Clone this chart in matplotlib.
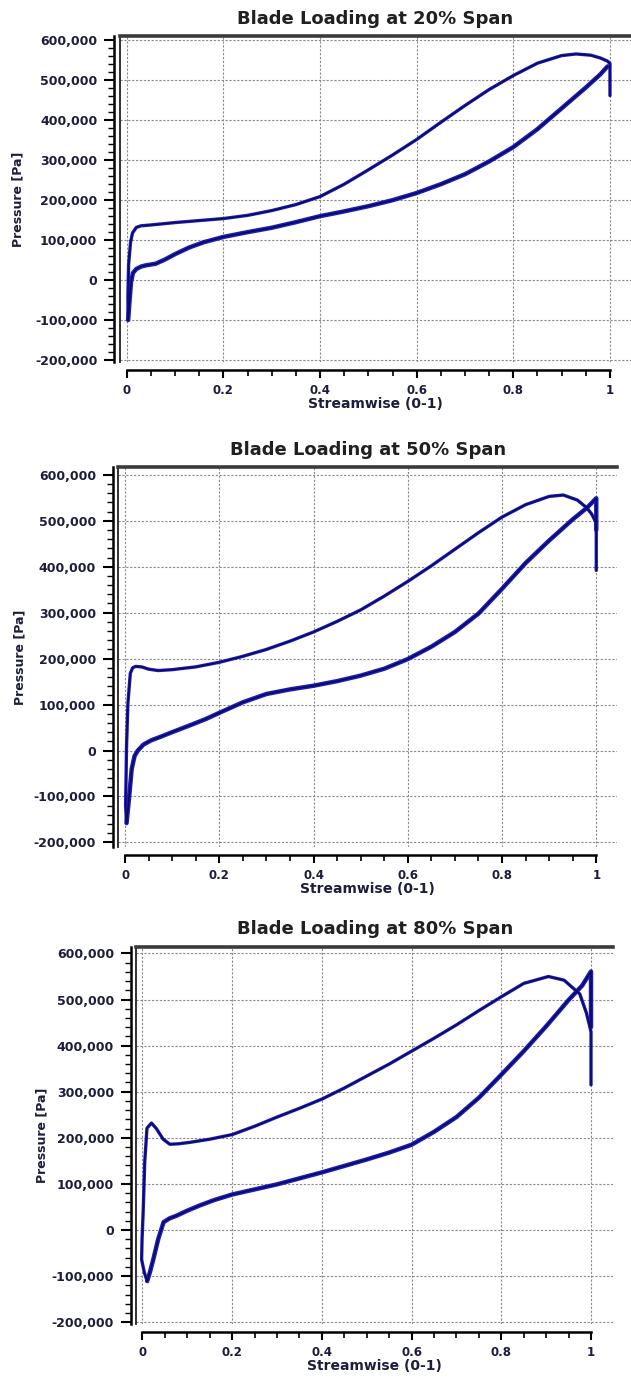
import numpy as np
import matplotlib.pyplot as plt
from matplotlib.ticker import MultipleLocator, FuncFormatter

plt.rcParams['font.family'] = ['DejaVu Sans']
plt.rcParams['font.weight'] = 'bold'

# blade loading data (pressure in Pa, streamwise 0-1)
# upper branch (pressure side) and lower branch (suction side)
x_ps_20 = [0.003, 0.0025, 0.004, 0.008, 0.012, 0.02, 0.03, 0.05, 0.1, 0.15, 0.2, 0.25, 0.3, 0.35,
           0.4, 0.45, 0.5, 0.55, 0.6, 0.65, 0.7, 0.75, 0.8, 0.85, 0.9, 0.93, 0.96, 0.98, 0.995, 1.0, 1.0]
p_ps_20 = [-100e3, -40e3, 40e3, 95e3, 118e3, 132e3, 136e3, 138e3, 144e3, 149e3, 154e3, 162e3, 174e3, 189e3,
           209e3, 240e3, 276e3, 313e3, 352e3, 395e3, 437e3, 477e3, 512e3, 543e3, 562e3, 566e3, 563e3, 556e3,
           548e3, 542e3, 462e3]
x_ss_20 = [0.003, 0.006, 0.009, 0.013, 0.02, 0.03, 0.04, 0.06, 0.08, 0.1, 0.13, 0.16, 0.2, 0.25, 0.3,
           0.35, 0.4, 0.45, 0.5, 0.55, 0.6, 0.65, 0.7, 0.75, 0.8, 0.85, 0.9, 0.95, 0.98, 0.995]
p_ss_20 = [-100e3, -50e3, -5e3, 18e3, 28e3, 34e3, 37e3, 41e3, 52e3, 65e3, 82e3, 95e3, 108e3, 120e3, 131e3,
           145e3, 160e3, 172e3, 185e3, 200e3, 218e3, 240e3, 265e3, 297e3, 333e3, 378e3, 430e3, 482e3,
           515e3, 535e3]

x_ps_50 = [0.003, 0.001, 0.002, 0.003, 0.006, 0.011, 0.016, 0.022, 0.035, 0.05, 0.07, 0.1, 0.15, 0.2,
           0.25, 0.3, 0.35, 0.4, 0.45, 0.5, 0.55, 0.6, 0.65, 0.7, 0.75, 0.8, 0.85, 0.9, 0.93, 0.96,
           0.98, 0.99, 1.0, 1.0]
p_ps_50 = [-158e3, -120e3, -60e3, 9e3, 104e3, 168e3, 180e3, 183e3, 182e3, 177e3, 174e3, 176e3, 182e3,
           192e3, 205e3, 220e3, 238e3, 258e3, 281e3, 306e3, 336e3, 368e3, 402e3, 438e3, 474e3, 508e3,
           535e3, 553e3, 556e3, 545e3, 528e3, 515e3, 495e3, 392e3]
x_ss_50 = [0.003, 0.008, 0.014, 0.02, 0.027, 0.039, 0.055, 0.078, 0.1, 0.138, 0.17, 0.2, 0.25, 0.3,
           0.35, 0.4, 0.45, 0.5, 0.55, 0.6, 0.65, 0.7, 0.75, 0.8, 0.85, 0.9, 0.95, 0.98, 1.0, 1.0]
p_ss_50 = [-158e3, -107e3, -40e3, -12e3, 0, 13e3, 22e3, 31e3, 40e3, 55e3, 68e3, 82e3, 105e3, 123e3,
           133e3, 141e3, 151e3, 163e3, 178e3, 199e3, 226e3, 258e3, 298e3, 352e3, 408e3, 457e3, 503e3,
           528e3, 549e3, 480e3]

x_ps_80 = [0.0104, 0.004, -0.002, -0.001, 0.0015, 0.005, 0.01, 0.02, 0.031, 0.046, 0.061, 0.08, 0.105,
           0.15, 0.2, 0.25, 0.3, 0.35, 0.4, 0.45, 0.5, 0.55, 0.6, 0.65, 0.7, 0.75, 0.8, 0.85, 0.905,
           0.94, 0.975, 0.99, 1.0, 1.0]
p_ps_80 = [-111e3, -92e3, -64e3, -20e3, 39e3, 148e3, 221e3, 232e3, 220e3, 197e3, 186e3, 187e3, 190e3,
           197e3, 207e3, 225e3, 245e3, 264e3, 284e3, 308e3, 334e3, 360e3, 388e3, 416e3, 445e3, 476e3,
           506e3, 535e3, 550e3, 542e3, 512e3, 470e3, 430e3, 315e3]
x_ss_80 = [0.0104, 0.017, 0.024, 0.035, 0.047, 0.06, 0.076, 0.1, 0.127, 0.16, 0.2, 0.25, 0.3, 0.35,
           0.4, 0.45, 0.5, 0.55, 0.6, 0.65, 0.7, 0.75, 0.8, 0.85, 0.9, 0.95, 0.98, 1.0, 1.0]
p_ss_80 = [-111e3, -90e3, -64e3, -20e3, 17e3, 25e3, 31e3, 42e3, 53e3, 65e3, 77e3, 88e3, 99e3, 112e3,
           125e3, 139e3, 153e3, 168e3, 185e3, 213e3, 245e3, 287e3, 337e3, 388e3, 442e3, 499e3, 530e3,
           561e3, 440e3]

spans = ['20%', '50%', '80%']

fig = plt.figure(figsize=(6.31, 13.83), dpi=100)

W, H = 631.0, 1383.0


def panel(box, span, xps, pps, xss, pss, xlim, ylim, ylab_x):
    l, r, t, b = box
    ax = fig.add_axes([l / W, 1 - b / H, (r - l) / W, (b - t) / H])
    blue = '#1c1cbe'
    core = '#0a0a55'
    ax.plot(xss, pss, color=blue, lw=3.2, solid_capstyle='round', solid_joinstyle='round', zorder=3)
    ax.plot(xss, pss, color=core, lw=1.1, solid_joinstyle='round', zorder=4)
    ax.plot(xps, pps, color=blue, lw=2.4, solid_capstyle='round', solid_joinstyle='round', zorder=3)
    ax.plot(xps, pps, color=core, lw=1.0, solid_joinstyle='round', zorder=4)

    ax.set_xlim(*xlim)
    ax.set_ylim(*ylim)
    ax.xaxis.set_major_locator(MultipleLocator(0.2))
    ax.xaxis.set_minor_locator(MultipleLocator(0.05))
    ax.yaxis.set_major_locator(MultipleLocator(100000))
    ax.yaxis.set_minor_locator(MultipleLocator(20000))
    ax.xaxis.set_major_formatter(FuncFormatter(lambda v, p: f'{v:g}'))
    ax.yaxis.set_major_formatter(FuncFormatter(lambda v, p: f'{v:,.0f}'))

    ax.grid(True, which='major', color='#8a8a8a', lw=0.8, linestyle=(0, (2, 1.5)))
    ax.set_axisbelow(True)

    ax.spines['right'].set_visible(False)
    ax.spines['top'].set_linewidth(2.6)
    ax.spines['top'].set_color('#3a3a3a')
    ax.spines['left'].set_position(('outward', 4))
    ax.spines['left'].set_linewidth(1.8)
    ax.spines['bottom'].set_position(('outward', 6))
    ax.spines['bottom'].set_bounds(0, 1)
    ax.spines['bottom'].set_linewidth(1.8)
    # inner frame line of the plot area
    ax.plot([0, 0], [0, 1], transform=ax.transAxes, color='#222222', lw=1.3, clip_on=False)

    ax.tick_params(axis='y', which='major', length=7, width=1.5, pad=5, labelsize=9,
                   labelcolor='#1c1c3c')
    ax.tick_params(axis='y', which='minor', length=4, width=1.0)
    ax.tick_params(axis='x', which='major', length=6, width=1.5, pad=4, labelsize=8.5,
                   labelcolor='#1c1c3c')
    ax.tick_params(axis='x', which='minor', length=4, width=1.2)

    ax.set_title(f'Blade Loading at {span} Span', fontsize=13, fontweight='bold', color='#202020', pad=9)
    ax.set_xlabel('Streamwise (0-1)', fontsize=10, fontweight='bold', color='#1c1c3c', labelpad=0)
    ax.set_ylabel('Pressure [Pa]', fontsize=9, fontweight='bold', color='#1c1c3c')
    ax.yaxis.set_label_coords(ylab_x, 0.5)
    return ax


panel((119.5, 631, 36, 362), spans[0], x_ps_20, p_ps_20, x_ss_20, p_ss_20,
      (-0.0149, 1.0435), (-205000, 611000), -0.186)
panel((118.2, 617, 467, 847), spans[1], x_ps_50, p_ps_50, x_ss_50, p_ss_50,
      (-0.0147, 1.044), (-210000, 617000), -0.184)
panel((136.4, 613, 947, 1324), spans[2], x_ps_80, p_ps_80, x_ss_80, p_ss_80,
      (-0.0136, 1.049), (-204000, 614000), -0.185)

fig.savefig('out.png', dpi=100)
